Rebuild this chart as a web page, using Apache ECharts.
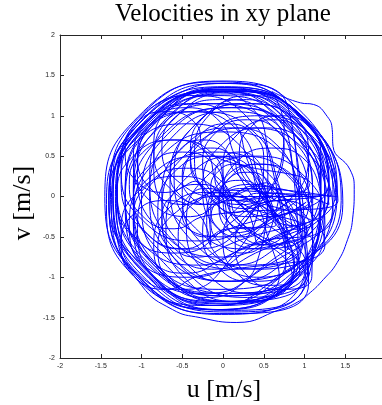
<!DOCTYPE html>
<html>
<head>
<meta charset="utf-8">
<script src="https://cdn.jsdelivr.net/npm/echarts@6/dist/echarts.min.js"></script>
<style>
  html, body { margin: 0; padding: 0; background: #fff; }
  #chart { width: 382px; height: 405px; }
</style>
</head>
<body>
<div id="chart"></div>
<script>
// velocity trajectory as [u, v] pairs (m/s)
const pathPart1 = [
  [1.38,-0.05],[1.0,0.95],[0.02,1.36],[-0.98,0.95],[-1.40,-0.04],[-1.0,-1.02],[-0.02,-1.46],[0.98,-1.05],
  [1.2,0.25],[0.94,0.89],[0.3,1.15],[-0.34,0.89],[-0.6,0.25],[-0.34,-0.39],[0.3,-0.65],[0.94,-0.39],
  [0.65,-0.3],[0.53,-0.02],[0.25,0.1],[-0.03,-0.02],[-0.15,-0.3],[-0.03,-0.58],[0.25,-0.7],[0.53,-0.58],
  [1.25,0.0],[0.87,0.92],[-0.05,1.3],[-0.97,0.92],[-1.35,0.0],[-0.97,-0.92],[-0.05,-1.3],[0.87,-0.92],
  [0.45,0.2],[0.2,0.8],[-0.4,1.05],[-1.0,0.8],[-1.25,0.2],[-1.0,-0.4],[-0.4,-0.65],[0.2,-0.4],
  [0.5,0.45],[0.37,0.77],[0.05,0.9],[-0.27,0.77],[-0.4,0.45],[-0.27,0.13],[0.05,0.0],[0.37,0.13],
  [1.3,-0.1],[0.95,0.75],[0.1,1.1],[-0.75,0.75],[-1.1,-0.1],[-0.75,-0.95],[0.1,-1.3],[0.95,-0.95],
  [1.25,-0.35],[1.0,0.25],[0.4,0.5],[-0.2,0.25],[-0.45,-0.35],[-0.2,-0.95],[0.4,-1.2],[1.0,-0.95]
];
const pathPart2 = [
  [0.15,-0.3],[0.02,0.02],[-0.3,0.15],[-0.62,0.02],[-0.75,-0.3],[-0.62,-0.62],[-0.3,-0.75],[0.02,-0.62],
  [1.38,0.05],[0.98,1.03],[0.0,1.43],[-0.98,1.03],[-1.38,0.05],[-0.98,-0.93],[0.0,-1.33],[0.98,-0.93],
  [1.25,0.1],[1.03,0.63],[0.5,0.85],[-0.03,0.63],[-0.25,0.1],[-0.03,-0.43],[0.5,-0.65],[1.03,-0.43],
  [0.15,0.3],[0.03,0.58],[-0.25,0.7],[-0.53,0.58],[-0.65,0.3],[-0.53,0.02],[-0.25,-0.1],[0.03,0.02],
  [0.85,-0.4],[0.57,0.27],[-0.1,0.55],[-0.77,0.27],[-1.05,-0.4],[-0.77,-1.07],[-0.1,-1.35],[0.57,-1.07],
  [1.47,-0.1],[1.05,0.9],[0.05,1.32],[-0.95,0.9],[-1.37,-0.1],[-0.95,-1.1],[0.05,-1.45],[1.05,-1.08],
  [0.85,0.4],[0.69,0.79],[0.3,0.95],[-0.09,0.79],[-0.25,0.4],[-0.09,0.01],[0.3,-0.15],[0.69,0.01],
  [0.1,-0.05],[-0.08,0.37],[-0.5,0.55],[-0.92,0.37],[-1.1,-0.05],[-0.92,-0.47],[-0.5,-0.65],[-0.08,-0.47]
];
const pathPart3 = [
  [1.3,0.2],[0.98,0.98],[0.2,1.3],[-0.58,0.98],[-0.9,0.2],[-0.58,-0.58],[0.2,-0.9],[0.98,-0.58],
  [0.95,-0.1],[0.8,0.25],[0.45,0.4],[0.1,0.25],[-0.05,-0.1],[0.1,-0.45],[0.45,-0.6],[0.8,-0.45],
  [1.05,-0.1],[0.69,0.79],[-0.2,1.15],[-1.09,0.79],[-1.43,-0.1],[-1.09,-0.99],[-0.2,-1.35],[0.69,-0.99],
  [0.55,-0.5],[0.39,-0.11],[0.0,0.05],[-0.39,-0.11],[-0.55,-0.5],[-0.39,-0.89],[0.0,-1.05],[0.39,-0.89],
  [0.55,0.35],[0.29,0.99],[-0.35,1.25],[-0.99,0.99],[-1.25,0.35],[-0.99,-0.29],[-0.35,-0.55],[0.29,-0.29],
  [0.75,0.85],[0.6,1.3],[0.95,1.16],[1.11,1.14],[1.28,0.99],[1.34,0.83],[1.35,0.62],[1.56,0.33],
  [1.61,0.09],[1.59,-0.28],[1.53,-0.53],[1.40,-0.82],[1.23,-1.03],[1.07,-1.19],[0.91,-1.31],[0.70,-1.40],
  [0.17,-1.56],[-0.28,-1.50],[-0.62,-1.40],[-1.0,-1.1],[-1.3,-0.5],[-1.35,0.2],[-1.1,0.85],[-0.6,1.25],
  [0.05,1.4],[0.8,1.1]
];
const pathPart4 = [
  [0.95,-0.45],[0.77,-0.03],[0.35,0.15],[-0.07,-0.03],[-0.25,-0.45],[-0.07,-0.87],[0.35,-1.05],[0.77,-0.87],
  [0.55,0.6],[0.35,1.1],[-0.15,1.3],[-0.65,1.1],[-0.85,0.6],[-0.65,0.1],[-0.15,-0.1],[0.35,0.1],
  [1.32,0.0],[0.93,0.93],[0.0,1.32],[-0.93,0.93],[-1.32,0.0],[-0.93,-0.93],[0.0,-1.32],[0.93,-0.93],
  [1.2,0.35],[1.02,0.77],[0.6,0.95],[0.18,0.77],[0.0,0.35],[0.18,-0.07],[0.6,-0.25],[1.02,-0.07],
  [0.15,-0.45],[-0.05,0.05],[-0.55,0.25],[-1.05,0.05],[-1.25,-0.45],[-1.05,-0.95],[-0.55,-1.15],[-0.05,-0.95],
  [0.45,0.1],[0.36,0.31],[0.15,0.4],[-0.06,0.31],[-0.15,0.1],[-0.06,-0.11],[0.15,-0.2],[0.36,-0.11],
  [1.3,0.15],[0.95,1.0],[0.1,1.35],[-0.75,1.0],[-1.1,0.15],[-0.75,-0.7],[0.1,-1.05],[0.95,-0.7],
  [0.6,-0.2],[0.4,0.3],[-0.1,0.5],[-0.6,0.3],[-0.8,-0.2],[-0.6,-0.7],[-0.1,-0.9],[0.4,-0.7],
  [1.35,-0.2],[1.04,0.54],[0.3,0.85],[-0.44,0.54],[-0.75,-0.2],[-0.44,-0.94],[0.3,-1.25],[1.04,-0.94]
];
const pathPart5 = [
  [-0.05,0.15],[-0.21,0.54],[-0.6,0.7],[-0.99,0.54],[-1.15,0.15],[-0.99,-0.24],[-0.6,-0.4],[-0.21,-0.24],
  [1.41,-0.05],[1.01,0.91],[0.05,1.31],[-0.91,0.91],[-1.31,-0.05],[-0.91,-1.01],[0.05,-1.41],[1.01,-1.01],
  [0.9,0.55],[0.71,1.01],[0.25,1.2],[-0.21,1.01],[-0.4,0.55],[-0.21,0.09],[0.25,-0.1],[0.71,0.09],
  [0.45,-0.6],[0.26,-0.14],[-0.2,0.05],[-0.66,-0.14],[-0.85,-0.6],[-0.66,-1.06],[-0.2,-1.25],[0.26,-1.06],
  [1.4,0.05],[1.12,0.72],[0.45,1.0],[-0.22,0.72],[-0.5,0.05],[-0.22,-0.62],[0.45,-0.9],[1.12,-0.62],
  [0.5,-0.05],[0.22,0.62],[-0.45,0.9],[-1.12,0.62],[-1.4,-0.05],[-1.12,-0.72],[-0.45,-1.0],[0.22,-0.72],
  [0.55,-0.15],[0.45,0.1],[0.2,0.2],[-0.05,0.1],[-0.15,-0.15],[-0.05,-0.4],[0.2,-0.5],[0.45,-0.4],
  [1.05,0.3],[0.75,1.04],[0.0,1.35],[-0.75,1.04],[-1.05,0.3],[-0.75,-0.44],[0.0,-0.75],[0.75,-0.44]
];
const pathPart6 = [
  [1.1,-0.3],[0.78,0.48],[0.0,0.8],[-0.78,0.48],[-1.1,-0.3],[-0.78,-1.08],[0.0,-1.4],[0.78,-1.08],
  [1.35,0.0],[0.94,0.99],[-0.05,1.42],[-1.04,0.99],[-1.45,0.0],[-1.04,-0.99],[-0.05,-1.4],[0.94,-0.99],
  [1.1,-0.55],[0.94,-0.16],[0.55,0.0],[0.16,-0.16],[0.0,-0.55],[0.16,-0.94],[0.55,-1.1],[0.94,-0.94],
  [0.15,0.5],[-0.03,0.92],[-0.45,1.1],[-0.87,0.92],[-1.05,0.5],[-0.87,0.08],[-0.45,-0.1],[-0.03,0.08],
  [0.95,0.0],[0.7,0.6],[0.1,0.85],[-0.5,0.6],[-0.75,0.0],[-0.5,-0.6],[0.1,-0.85],[0.7,-0.6],
  [1.3,0.02],[0.93,0.91],[0.05,1.27],[-0.83,0.91],[-1.2,0.02],[-0.83,-0.87],[0.05,-1.23],[0.93,-0.87]
];
const pathPart7 = [
  [1.40,0.05],[1.01,0.96],[0.05,1.33],[-0.91,0.96],[-1.30,0.05],[-0.91,-0.86],[0.05,-1.23],[1.01,-0.86],
  [1.20,-0.05],[0.82,0.91],[-0.1,1.30],[-1.02,0.91],[-1.40,-0.05],[-1.02,-1.01],[-0.1,-1.40],[0.82,-1.01],
  [1.25,0.15],[0.97,0.86],[0.3,1.15],[-0.37,0.86],[-0.65,0.15],[-0.37,-0.56],[0.3,-0.85],[0.97,-0.56],
  [0.5,0.25],[0.41,0.46],[0.2,0.55],[-0.01,0.46],[-0.1,0.25],[-0.01,0.04],[0.2,-0.05],[0.41,0.04],
  [1.40,0.0],[1.04,0.92],[0.15,1.30],[-0.74,0.92],[-1.10,0.0],[-0.74,-0.92],[0.15,-1.30],[1.04,-0.92],
  [0.70,0.1],[0.41,0.77],[-0.3,1.05],[-1.01,0.77],[-1.30,0.1],[-1.01,-0.57],[-0.3,-0.85],[0.41,-0.57],
  [1.10,-0.4],[0.84,0.24],[0.2,0.5],[-0.44,0.24],[-0.7,-0.4],[-0.44,-1.04],[0.2,-1.30],[0.84,-1.04],
  [1.20,-0.1],[0.85,0.79],[0.0,1.15],[-0.85,0.79],[-1.20,-0.1],[-0.85,-0.99],[0.0,-1.35],[0.85,-0.99]
];
const pathPart8 = [
  [0.1,-0.2],[0.01,0.01],[-0.2,0.1],[-0.41,0.01],[-0.5,-0.2],[-0.41,-0.41],[-0.2,-0.5],[0.01,-0.41],
  [0.65,-0.35],[0.39,0.25],[-0.25,0.5],[-0.89,0.25],[-1.15,-0.35],[-0.89,-0.95],[-0.25,-1.2],[0.39,-0.95],
  [1.30,0.1],[0.92,1.02],[0.0,1.40],[-0.92,1.02],[-1.30,0.1],[-0.92,-0.82],[0.0,-1.20],[0.92,-0.82],
  [0.85,0.4],[0.60,1.04],[0.0,1.30],[-0.60,1.04],[-0.85,0.4],[-0.60,-0.24],[0.0,-0.5],[0.60,-0.24],
  [1.05,0.5],[0.85,1.03],[0.35,1.25],[-0.15,1.03],[-0.35,0.5],[-0.15,-0.03],[0.35,-0.25],[0.85,-0.03],
  [0.65,-0.05],[0.55,0.2],[0.3,0.3],[0.05,0.2],[-0.05,-0.05],[0.05,-0.3],[0.3,-0.4],[0.55,-0.3],
  [1.10,0.05],[0.77,0.90],[-0.05,1.25],[-0.87,0.90],[-1.20,0.05],[-0.87,-0.80],[-0.05,-1.15],[0.77,-0.80],
  [0.3,0.45],[0.1,0.95],[-0.4,1.15],[-0.9,0.95],[-1.1,0.45],[-0.9,-0.05],[-0.4,-0.25],[0.1,-0.05]
];
const pathPart9 = [
  [1.10,-0.3],[0.91,0.2],[0.45,0.4],[-0.01,0.2],[-0.2,-0.3],[-0.01,-0.8],[0.45,-1.0],[0.91,-0.8],
  [0.2,-0.3],[0.01,0.16],[-0.45,0.35],[-0.91,0.16],[-1.10,-0.3],[-0.91,-0.76],[-0.45,-0.95],[0.01,-0.76],
  [1.20,-0.05],[0.88,0.77],[0.1,1.10],[-0.68,0.77],[-1.0,-0.05],[-0.68,-0.87],[0.1,-1.20],[0.88,-0.87],
  [0.2,0.25],[0.1,0.5],[-0.15,0.6],[-0.4,0.5],[-0.5,0.25],[-0.4,0.0],[-0.15,-0.1],[0.1,0.0],
  [1.2,0.0],[1.03,0.43],[0.6,0.6],[0.17,0.43],[0.0,0.0],[0.17,-0.43],[0.6,-0.6],[1.03,-0.43],
  [0.1,0.0],[-0.1,0.5],[-0.6,0.7],[-1.1,0.5],[-1.3,0.0],[-1.1,-0.5],[-0.6,-0.7],[-0.1,-0.5],
  [0.75,0.6],[0.53,1.03],[0.0,1.2],[-0.53,1.03],[-0.75,0.6],[-0.53,0.17],[0.0,0.0],[0.53,0.17],
  [0.8,-0.65],[0.57,-0.19],[0.0,0.0],[-0.57,-0.19],[-0.8,-0.65],[-0.57,-1.11],[0.0,-1.3],[0.57,-1.11]
];
const pathPart10 = [
  [1.45,-0.05],[1.04,0.93],[0.05,1.33],[-0.94,0.93],[-1.35,-0.05],[-0.94,-1.03],[0.05,-1.43],[1.04,-1.03],
  [1.2,0.5],[1.06,0.86],[0.7,1.0],[0.34,0.86],[0.2,0.5],[0.34,0.14],[0.7,0.0],[1.06,0.14],
  [-0.2,0.55],[-0.34,0.91],[-0.7,1.05],[-1.06,0.91],[-1.2,0.55],[-1.06,0.19],[-0.7,0.05],[-0.34,0.19],
  [-0.15,-0.6],[-0.31,-0.21],[-0.7,-0.05],[-1.09,-0.21],[-1.25,-0.6],[-1.09,-0.99],[-0.7,-1.15],[-0.31,-0.99],
  [1.25,-0.6],[1.09,-0.21],[0.7,-0.05],[0.31,-0.21],[0.15,-0.6],[0.31,-0.99],[0.7,-1.15],[1.09,-0.99],
  [1.1,0.0],[0.81,0.75],[0.1,1.05],[-0.61,0.75],[-0.9,0.0],[-0.61,-0.75],[0.1,-1.05],[0.81,-0.75],
  [1.2,0.0]
];

const xTicks = [-2, -1.5, -1, -0.5, 0, 0.5, 1, 1.5, 2];
const yTicks = [-2, -1.5, -1, -0.5, 0, 0.5, 1, 1.5, 2];

const trajectory = [].concat(pathPart1, pathPart2, pathPart3, pathPart4, pathPart5,
  pathPart6, pathPart7, pathPart8, pathPart9, pathPart10);

const chart = echarts.init(document.getElementById('chart'));

const axisColor = '#262626';
const labelStyle = { color: axisColor, fontSize: 7, fontFamily: 'Liberation Sans, Arial, sans-serif' };
const serif = '"Liberation Serif", serif';

chart.setOption({
  animation: false,
  grid: { left: 60, top: 35, width: 326, height: 323, outerBoundsMode: 'none', containLabel: false },
  xAxis: [
    {
      type: 'value',
      min: xTicks[0],
      max: xTicks[xTicks.length - 1],
      interval: 0.5,
      axisLine: { onZero: false, lineStyle: { color: axisColor, width: 1 } },
      axisTick: { inside: true, length: 4, lineStyle: { color: axisColor } },
      axisLabel: Object.assign({ margin: 5 }, labelStyle),
      splitLine: { show: false }
    },
    {
      type: 'value',
      position: 'top',
      min: xTicks[0],
      max: xTicks[xTicks.length - 1],
      interval: 0.5,
      axisLine: { show: true, onZero: false, lineStyle: { color: axisColor, width: 1 } },
      axisTick: { show: true, inside: true, length: 4, lineStyle: { color: axisColor } },
      axisLabel: { show: false },
      splitLine: { show: false }
    }
  ],
  yAxis: {
    type: 'value',
    min: yTicks[0],
    max: yTicks[yTicks.length - 1],
    interval: 0.5,
    axisLine: { show: true, onZero: false, lineStyle: { color: axisColor, width: 1 } },
    axisTick: { show: true, inside: true, length: 4, lineStyle: { color: axisColor } },
    axisLabel: Object.assign({ margin: 5 }, labelStyle),
    splitLine: { show: false }
  },
  graphic: [
    {
      type: 'text', x: 223, y: 14,
      style: { text: 'Velocities in xy plane', font: '25px ' + serif, fill: '#000', textAlign: 'center', textVerticalAlign: 'middle' }
    },
    {
      type: 'text', x: 224, y: 390,
      style: { text: 'u [m/s]', font: '26px ' + serif, fill: '#000', textAlign: 'center', textVerticalAlign: 'middle' }
    },
    {
      type: 'text', x: 23, y: 203, rotation: Math.PI / 2,
      style: { text: 'v [m/s]', font: '26px ' + serif, fill: '#000', textAlign: 'center', textVerticalAlign: 'middle' }
    }
  ],
  series: [
    {
      type: 'line',
      xAxisIndex: 0,
      data: trajectory,
      showSymbol: false,
      smooth: 0.5,
      clip: true,
      lineStyle: { color: '#0000ff', width: 1 }
    }
  ]
});
</script>
</body>
</html>
